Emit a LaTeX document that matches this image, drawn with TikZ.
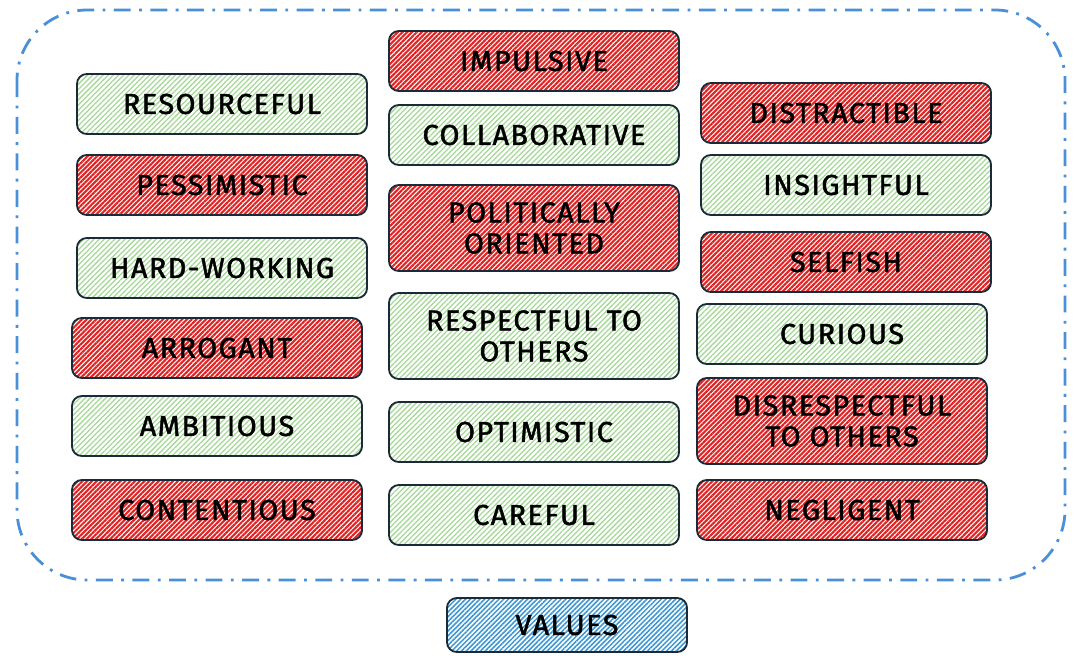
\documentclass[tikz,border=0pt]{standalone}
\usepackage{fontspec}
\setmainfont{Fira Sans}[FakeBold=1.6, LetterSpace=5]
\usepackage{xcolor}
\usetikzlibrary{patterns.meta}

\definecolor{edge}{HTML}{1B2A38}
\definecolor{goodgreen}{HTML}{A3D896}
\definecolor{badred}{HTML}{E02222}
\definecolor{valblue}{HTML}{3D96D2}
\definecolor{framblue}{HTML}{4A90D9}

\begin{document}
\begin{tikzpicture}[x=0.025cm, y=-0.025cm,
    trait/.style={draw=edge, line width=1.3pt, rounded corners=7pt,
        minimum width=7.25cm, minimum height=1.5cm, align=center, inner sep=2pt,
        font=\fontsize{20.5}{22}\selectfont},
    good/.style={trait, pattern={Lines[angle=45, distance=2.6pt, line width=0.9pt]}, pattern color=goodgreen},
    bad/.style={trait, pattern={Lines[angle=45, distance=2.4pt, line width=1.5pt]}, pattern color=badred},
    goodtall/.style={good, minimum height=2.15cm},
    badtall/.style={bad, minimum height=2.15cm},
    frame/.style={draw=framblue, line width=2pt, rounded corners=50pt,
        dash pattern=on 12pt off 6pt on 2pt off 6pt}]
    \useasboundingbox (0,0) rectangle (1077,659);

    % outer group
    \draw[frame] (17,10) rectangle (1065,580);

    % traits, column by column
    \foreach \nm/\px/\py/\kind/\txt in {
        resource/222/104/good/RESOURCEFUL,
        pessim/222/185/bad/PESSIMISTIC,
        hardwork/222/268/good/HARD-WORKING,
        arrogant/217/348/bad/ARROGANT,
        ambit/217/426/good/AMBITIOUS,
        content/217/510/bad/CONTENTIOUS,
        impulse/534/61/bad/IMPULSIVE,
        collab/534/135/good/COLLABORATIVE,
        politic/534/228/badtall/POLITICALLY\\ORIENTED,
        respect/534/336/goodtall/RESPECTFUL TO\\OTHERS,
        optim/534/432/good/OPTIMISTIC,
        careful/534/515/good/CAREFUL,
        distract/846/113/bad/DISTRACTIBLE,
        insight/846/185/good/INSIGHTFUL,
        selfish/846/262/bad/SELFISH,
        curious/842/334/good/CURIOUS,
        disresp/842/421/badtall/DISRESPECTFUL\\TO OTHERS,
        neglig/842/510/bad/NEGLIGENT}
        \node[\kind] (\nm) at (\px,\py) {\txt};

    % legend
    \node[trait, minimum width=6cm, minimum height=1.35cm,
        pattern={Lines[angle=45, distance=2.4pt, line width=1.1pt]}, pattern color=valblue]
        (values) at (567,625) {VALUES};
\end{tikzpicture}
\end{document}
